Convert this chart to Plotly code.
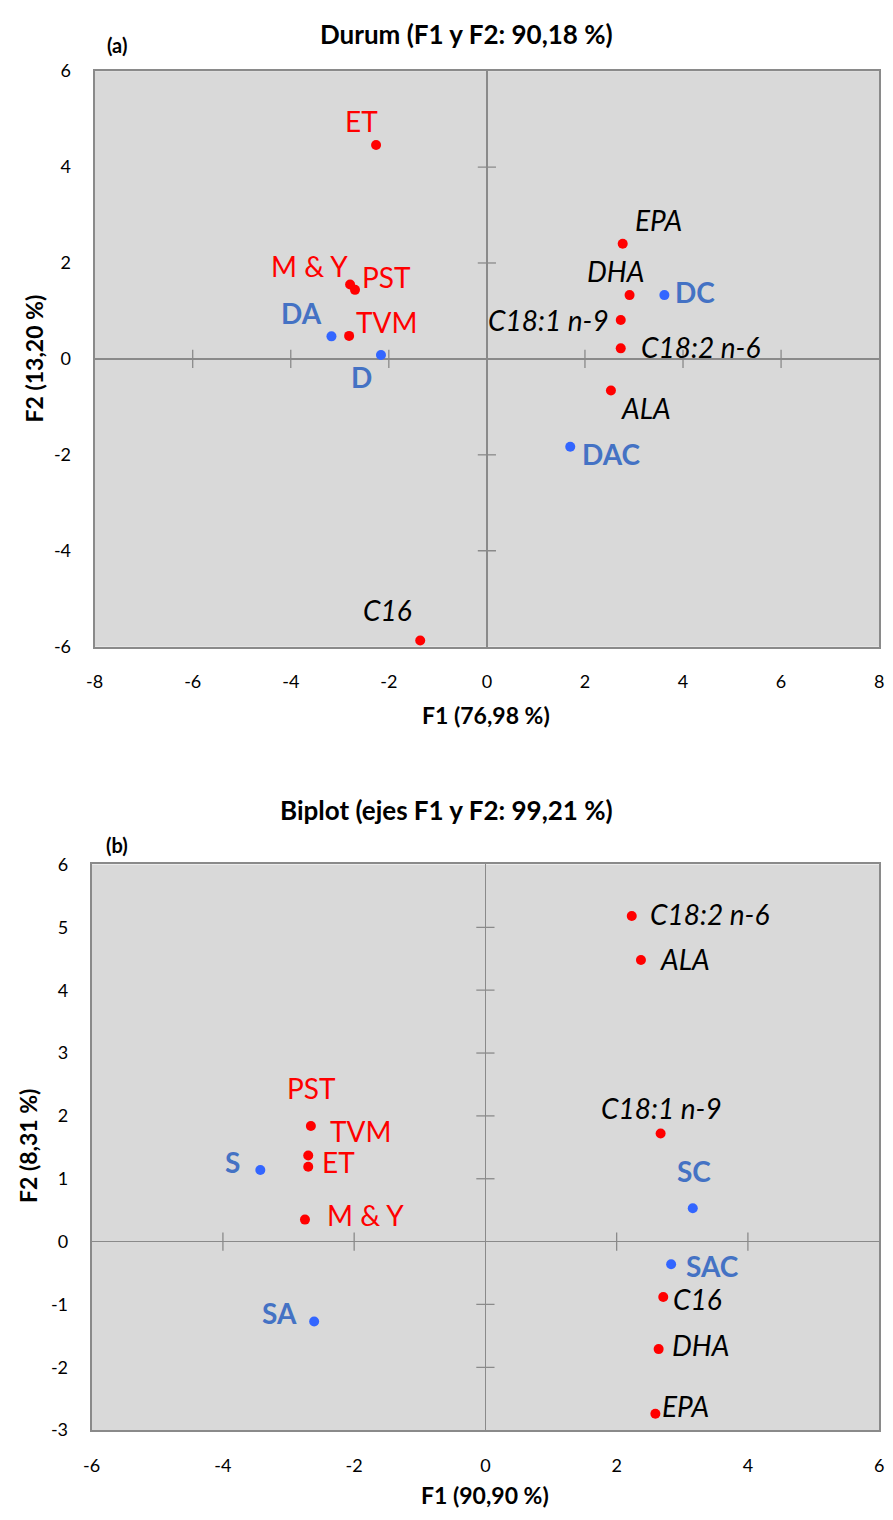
import plotly.graph_objects as go

# ---------------- data: panel (a) Durum ----------------
a_var_names = ["ET", "M & Y", "PST", "TVM", "EPA", "DHA", "C18:1 n-9", "C18:2 n-6", "ALA", "C16"]
a_var_f1 = [-2.26, -2.79, -2.69, -2.81, 2.77, 2.91, 2.73, 2.73, 2.53, -1.36]
a_var_f2 = [4.46, 1.55, 1.44, 0.48, 2.40, 1.33, 0.81, 0.22, -0.66, -5.87]
a_obs_names = ["DA", "D", "DC", "DAC"]
a_obs_f1 = [-3.17, -2.16, 3.62, 1.70]
a_obs_f2 = [0.47, 0.08, 1.33, -1.83]

# ---------------- data: panel (b) Biplot ----------------
b_var_names = ["C18:2 n-6", "ALA", "C18:1 n-9", "C16", "DHA", "EPA", "PST", "TVM", "ET", "M & Y"]
b_var_f1 = [2.23, 2.37, 2.67, 2.71, 2.64, 2.59, -2.70, -2.66, -2.70, -2.75]
b_var_f2 = [5.18, 4.48, 1.72, -0.88, -1.71, -2.74, 1.37, 1.84, 1.19, 0.35]
b_obs_names = ["S", "SA", "SC", "SAC"]
b_obs_f1 = [-3.43, -2.61, 3.16, 2.83]
b_obs_f2 = [1.14, -1.27, 0.53, -0.36]

a_xticks = [-8, -6, -4, -2, 0, 2, 4, 6, 8]
a_yticks = [-6, -4, -2, 0, 2, 4, 6]
b_xticks = [-6, -4, -2, 0, 2, 4, 6]
b_yticks = [-3, -2, -1, 0, 1, 2, 3, 4, 5, 6]

# ---------------- label styles (pixel offsets, anchors) ----------------
italic_vars = {"EPA", "DHA", "C18:1 n-9", "C18:2 n-6", "ALA", "C16"}
a_var_lab = {"ET": ("center", -15, 24), "M & Y": ("right", 0, 19), "PST": ("left", 5, 13),
             "TVM": ("left", 5, 14), "EPA": ("left", 10, 24), "DHA": ("center", -14, 24),
             "C18:1 n-9": ("right", -10, 0), "C18:2 n-6": ("left", 18, 1),
             "ALA": ("left", 8, -17), "C16": ("center", -33, 30)}
a_obs_lab = {"DA": ("right", -7, 23), "D": ("center", -19, -22), "DC": ("left", 9, 3),
             "DAC": ("left", 10, -7)}
b_var_lab = {"C18:2 n-6": ("left", 16, 2), "ALA": ("left", 17, 1), "C18:1 n-9": ("center", 1, 26),
             "C16": ("left", 8, -2), "DHA": ("left", 11, 4), "EPA": ("left", 5, 8),
             "PST": ("center", 3, 68), "TVM": ("left", 17, -5), "ET": ("left", 12, 5),
             "M & Y": ("left", 20, 5)}
b_obs_lab = {"S": ("right", -18, 8), "SA": ("right", -15, 8), "SC": ("center", 1, 37),
             "SAC": ("left", 13, -2)}

FONT = "Lato, 'Open Sans', sans-serif"
RED = "#ff0000"
BLUE_DOT = "#3366ff"
BLUE_TXT = "#4472c4"
GRID = "#8a8a8a"
BG = "#d9d9d9"
W, H = 893, 1520

fig = go.Figure()


def px_x(x):
    return x / W


def px_y(y):
    return 1 - y / H


# axes domains (page pixels -> paper)
a_xdom = [px_x(87), px_x(884)]
a_ydom = [px_y(644), px_y(60)]
b_xdom = [px_x(84), px_x(884)]
b_ydom = [px_y(1439), px_y(865)]


def add_panel(xa, ya, var_f1, var_f2, obs_f1, obs_f2, xticks, yticks):
    xt = [t for t in xticks if t not in (0, xticks[0], xticks[-1])]
    yt = [t for t in yticks if t not in (0, yticks[0], yticks[-1])]
    fig.add_trace(go.Scatter(x=xt, y=[0] * len(xt), mode="markers", xaxis=xa, yaxis=ya,
                             marker=dict(symbol="line-ns", size=13, line=dict(width=1.3, color=GRID)),
                             hoverinfo="skip", showlegend=False))
    fig.add_trace(go.Scatter(x=[0] * len(yt), y=yt, mode="markers", xaxis=xa, yaxis=ya,
                             marker=dict(symbol="line-ew", size=13, line=dict(width=1.3, color=GRID)),
                             hoverinfo="skip", showlegend=False))
    fig.add_trace(go.Scatter(x=var_f1, y=var_f2, mode="markers", xaxis=xa, yaxis=ya,
                             marker=dict(color=RED, size=10), showlegend=False, cliponaxis=False))
    fig.add_trace(go.Scatter(x=obs_f1, y=obs_f2, mode="markers", xaxis=xa, yaxis=ya,
                             marker=dict(color=BLUE_DOT, size=10), showlegend=False, cliponaxis=False))


add_panel("x", "y", a_var_f1, a_var_f2, a_obs_f1, a_obs_f2, a_xticks, a_yticks)
add_panel("x2", "y2", b_var_f1, b_var_f2, b_obs_f1, b_obs_f2, b_xticks, b_yticks)

annotations = []


def add_labels(xref, yref, names, f1, f2, styles, is_obs):
    for n, x, y in zip(names, f1, f2):
        anchor, xs, ys = styles[n]
        if is_obs:
            font = dict(family=FONT, size=28, color=BLUE_TXT, weight="bold")
        elif n in italic_vars:
            font = dict(family=FONT, size=28, color="black", style="italic")
        else:
            font = dict(family=FONT, size=28, color=RED)
        annotations.append(dict(x=x, y=y, xref=xref, yref=yref, text=n, showarrow=False,
                                xanchor=anchor, yanchor="middle", xshift=xs, yshift=ys, font=font))


add_labels("x", "y", a_var_names, a_var_f1, a_var_f2, a_var_lab, False)
add_labels("x", "y", a_obs_names, a_obs_f1, a_obs_f2, a_obs_lab, True)
add_labels("x2", "y2", b_var_names, b_var_f1, b_var_f2, b_var_lab, False)
add_labels("x2", "y2", b_obs_names, b_obs_f1, b_obs_f2, b_obs_lab, True)


def ptxt(text, x, y, size, bold=True, angle=0, xanchor="center"):
    annotations.append(dict(text=text, x=px_x(x), y=px_y(y), xref="paper", yref="paper",
                            showarrow=False, xanchor=xanchor, yanchor="middle", textangle=angle,
                            font=dict(family=FONT, size=size, color="black",
                                      weight="bold" if bold else "normal")))


ptxt("Durum (F1 y F2: 90,18 %)", 465, 22, 26)
ptxt("(a)", 110, 33, 20)
ptxt("F1 (76,98 %)", 485, 713, 23)
ptxt("F2 (13,20 %)", 25, 352, 23, angle=-90)
ptxt("Biplot (ejes F1 y F2: 99,21 %)", 444, 810, 26)
ptxt("(b)", 110, 845, 20)
ptxt("F1 (90,90 %)", 484, 1505, 23)
ptxt("F2 (8,31 %)", 20, 1151, 23, angle=-90)

axis_common = dict(showgrid=False, zeroline=True, zerolinecolor=GRID, zerolinewidth=1.3,
                   showline=True, mirror=True, linecolor=GRID, linewidth=2,
                   ticks="outside", tickcolor="rgba(0,0,0,0)", ticklen=18,
                   tickfont=dict(family=FONT, size=18, color="black"), fixedrange=True)


def tick_text(vals):
    return [str(v) for v in vals]


fig.update_layout(
    width=W, height=H, margin=dict(l=0, r=0, t=0, b=0),
    paper_bgcolor="white", plot_bgcolor=BG,
    xaxis=dict(domain=a_xdom, anchor="y", range=[-8, 8], tickvals=a_xticks,
               ticktext=tick_text(a_xticks), **axis_common),
    yaxis=dict(domain=a_ydom, anchor="x", range=[-6, 6], tickvals=a_yticks,
               ticktext=tick_text(a_yticks), **axis_common),
    xaxis2=dict(domain=b_xdom, anchor="y2", range=[-6, 6], tickvals=b_xticks,
                ticktext=tick_text(b_xticks), **axis_common),
    yaxis2=dict(domain=b_ydom, anchor="x2", range=[-3, 6], tickvals=b_yticks,
                ticktext=tick_text(b_yticks), **axis_common),
    annotations=annotations,
    showlegend=False,
)

page_fix = (
    "var h=document.documentElement,b=document.body;"
    "h.style.margin='0';h.style.padding='0';h.style.overflow='hidden';"
    "b.style.margin='0';b.style.padding='0';b.style.overflow='hidden';"
    "b.style.fontSize='0';b.style.lineHeight='0';"
    "h.style.height='1520px';b.style.height='1520px';"
    "var d=document.querySelector('.plotly-graph-div');"
    "if(d&&d.parentElement){d.parentElement.style.height='1520px';"
    "d.parentElement.style.overflow='hidden';}"
)

fig.write_html(
    "out.html",
    config={"displayModeBar": False, "staticPlot": True},
    post_script=page_fix,
)
